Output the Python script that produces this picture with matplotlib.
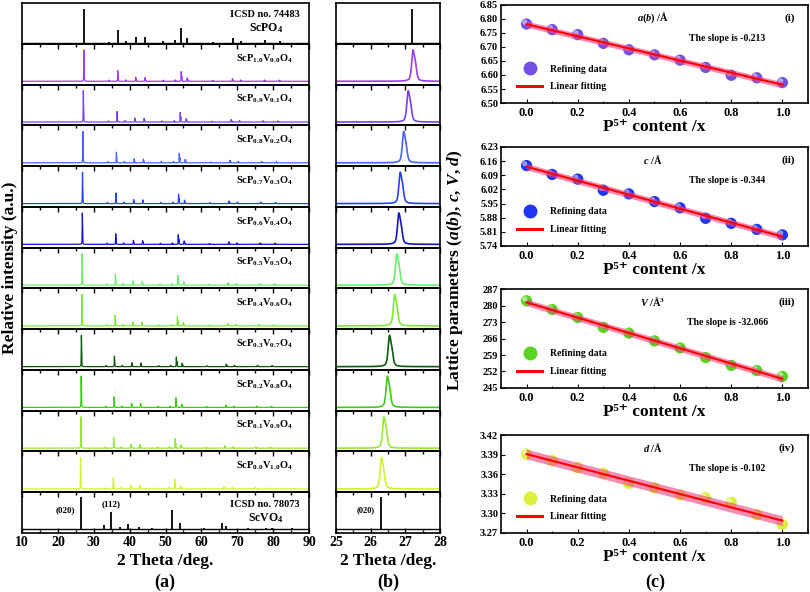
import numpy as np
import matplotlib
matplotlib.use('Agg')
import matplotlib.pyplot as plt
from matplotlib.lines import Line2D
from matplotlib import transforms
from matplotlib.ticker import MultipleLocator

plt.rcParams['font.family'] = ['Liberation Serif', 'DejaVu Serif']
plt.rcParams['font.weight'] = 'bold'
plt.rcParams['axes.labelweight'] = 'bold'
plt.rcParams['mathtext.fontset'] = 'custom'
plt.rcParams['mathtext.rm'] = 'Liberation Serif:bold'
plt.rcParams['mathtext.it'] = 'Liberation Serif:italic:bold'
plt.rcParams['mathtext.bf'] = 'Liberation Serif:bold'
plt.rcParams['axes.linewidth'] = 1.2

# ---- XRD data ----
p_content = [1.0, 0.9, 0.8, 0.7, 0.6, 0.5, 0.4, 0.3, 0.2, 0.1, 0.0]
row_colors = ['#9b3df2', '#7a3ff0', '#4a62f0', '#2743f0', '#1414c4', '#6cec6c',
              '#7ee83c', '#0c5a0c', '#3ccc14', '#98e634', '#d8f02c']
# position of the strongest (200)/(020) reflection for each sample, deg
main_peak = [27.22, 27.08, 26.95, 26.85, 26.81, 26.75, 26.69, 26.54, 26.48, 26.38, 26.31]

# reflections measured on the x = 1.0 pattern (position, relative height)
exp_peak_pos = [27.27, 34.33, 36.74, 38.97, 41.75, 44.35, 49.37, 52.80, 54.48, 56.15,
                63.30, 68.77, 71.10, 77.69, 81.87]
exp_peak_int = [1.0, 0.04, 0.36, 0.05, 0.14, 0.13, 0.04, 0.05, 0.34, 0.12,
                0.03, 0.09, 0.05, 0.05, 0.04]

# ICSD reference sticks
scpo4_pos = [27.18, 34.33, 36.65, 38.88, 41.66, 44.26, 49.28, 52.62, 54.29, 55.96,
             63.30, 68.68, 71.10, 77.69, 81.87]
scpo4_int = [1.0, 0.03, 0.38, 0.05, 0.18, 0.17, 0.06, 0.08, 0.44, 0.15,
             0.03, 0.15, 0.06, 0.08, 0.06]
scvo4_pos = [26.31, 32.98, 34.75, 37.43, 39.56, 42.53, 46.24, 51.89, 53.93, 60.6,
             65.7, 66.9, 73.1, 77.9, 79.8, 85.3]
scvo4_int = [1.0, 0.12, 0.52, 0.05, 0.17, 0.06, 0.03, 0.6, 0.2, 0.04,
             0.2, 0.1, 0.04, 0.04, 0.03, 0.04]

# ---- lattice parameters ----
x_frac = [0.0, 0.1, 0.2, 0.3, 0.4, 0.5, 0.6, 0.7, 0.8, 0.9, 1.0]
a_vals = [6.782, 6.762, 6.744, 6.713, 6.690, 6.672, 6.653, 6.627, 6.599, 6.590, 6.573]
c_vals = [6.138, 6.094, 6.071, 6.016, 5.998, 5.960, 5.929, 5.877, 5.852, 5.822, 5.795]
v_vals = [282.0, 278.3, 274.9, 270.7, 268.3, 265.0, 262.0, 257.9, 254.6, 252.4, 249.9]
d_vals = [3.3905, 3.381, 3.370, 3.3615, 3.346, 3.339, 3.328, 3.324, 3.317, 3.298, 3.283]
slope_text = ['The slope is -0.213', 'The slope is -0.344',
              'The slope is -32.066', 'The slope is -0.102']


def xrd_profile(tt, centers, heights, fwhm=0.09):
    hw = fwhm / 2
    y = np.zeros_like(tt)
    for c, h in zip(centers, heights):
        shift = np.degrees(2 * np.tan(np.radians(c / 2)) * 0.00251)  # K-alpha2
        for cc, hh in ((c, h), (c + shift, 0.5 * h)):
            u = (tt - cc) / hw
            y += hh * (0.5 / (1 + u ** 2) + 0.5 * np.exp(-np.log(2) * u ** 2))
    return y


fig = plt.figure(figsize=(8.1, 5.92), dpi=100)

n_rows = 13
bot, top = 0.0997, 0.9949
rh = (top - bot) / n_rows
tt_a = np.arange(10, 90, 0.005)
tt_b = np.arange(25, 28, 0.002)


def setup_row(ax, i, xmaj, xmin, xlim):
    ax.set_xlim(*xlim)
    ax.set_yticks([])
    ax.xaxis.set_major_locator(MultipleLocator(xmaj))
    ax.xaxis.set_minor_locator(MultipleLocator(xmin))
    last = i == n_rows - 1
    ax.tick_params(axis='x', which='both', direction='in', top=(i > 0),
                   bottom=last, labelbottom=last, labelsize=10, pad=2)
    ax.tick_params(axis='x', which='major', length=3.5, width=1)
    ax.tick_params(axis='x', which='minor', length=2, width=1)
    ax.patch.set_alpha(0)


for panel, (left, width) in enumerate([(0.0272, 0.3543), (0.4148, 0.1284)]):
    tt = tt_a if panel == 0 else tt_b
    xlim = (10, 90) if panel == 0 else (25, 28)
    for i in range(n_rows):
        ax = fig.add_axes([left, top - (i + 1) * rh, width, rh])
        setup_row(ax, i, 10 if panel == 0 else 1, 5 if panel == 0 else 0.5, xlim)
        if i == 0:
            ax.set_ylim(-0.03, 1.16)
            ax.axhline(0, color='k', lw=1)
            ax.vlines(scpo4_pos, 0, scpo4_int, color='k', lw=1.3)
            if panel == 0:
                ax.text(0.845, 0.72, 'ICSD no. 74483', transform=ax.transAxes,
                        ha='center', va='center', fontsize=7.5)
                ax.text(0.85, 0.38, r'ScPO$_{\rm 4}$', transform=ax.transAxes,
                        ha='center', va='center', fontsize=8.5)
        elif i == n_rows - 1:
            ax.set_ylim(-0.128, 1.154)
            ax.axhline(0, color='k', lw=1)
            ax.vlines(scvo4_pos, 0, scvo4_int, color='k', lw=1.3)
            if panel == 0:
                ax.text(0.845, 0.69, 'ICSD no. 78073', transform=ax.transAxes,
                        ha='center', va='center', fontsize=7.5)
                ax.text(0.85, 0.36, r'ScVO$_{\rm 4}$', transform=ax.transAxes,
                        ha='center', va='center', fontsize=8.5)
                ax.text(22.0, 0.6, '(020)', ha='center', va='center', fontsize=6.5)
                ax.text(34.8, 0.78, '(112)', ha='center', va='center', fontsize=6.5)
            else:
                ax.text(25.86, 0.6, '(020)', ha='center', va='center', fontsize=6)
        else:
            k = i - 1
            scale = main_peak[k] / exp_peak_pos[0]
            centers = np.array(exp_peak_pos) * scale
            y_full = xrd_profile(tt_a, centers, exp_peak_int)
            y = xrd_profile(tt, centers, exp_peak_int) / y_full.max()
            ax.set_ylim(-0.104, 1.195)
            ax.plot(tt, y, color=row_colors[k], lw=0.9 if panel == 0 else 1.2)
            if panel == 0:
                p = p_content[k]
                lab = r'ScP$_{\rm %.1f}$V$_{\rm %.1f}$O$_{\rm 4}$' % (p, abs(1 - p))
                ax.text(0.845, 0.645, lab, transform=ax.transAxes,
                        ha='center', va='center', fontsize=7.5)

fig.text(0.012, 0.547, 'Relative intensity (a.u.)', rotation=90,
         ha='center', va='center', fontsize=12.5)
fig.text(0.204, 0.052, '2 Theta /deg.', ha='center', va='center', fontsize=12.5)
fig.text(0.479, 0.052, '2 Theta /deg.', ha='center', va='center', fontsize=12.5)
fig.text(0.204, 0.017, '(a)', ha='center', va='center', fontsize=13)
fig.text(0.479, 0.017, '(b)', ha='center', va='center', fontsize=13)
fig.text(0.809, 0.017, '(c)', ha='center', va='center', fontsize=13)

# ---- panel (c) ----
c_boxes = [(0.826, 0.9916), (0.5845, 0.7517), (0.3446, 0.5118), (0.0997, 0.2652)]
c_series = [a_vals, c_vals, v_vals, d_vals]
c_colors = ['#7350e4', '#2036f0', '#5ad422', '#dcef3e']
c_titles = [r'$a$($b$) /$\rm\AA$', r'$c$ /$\rm\AA$', r'$V$ /$\rm\AA^3$', r'$d$ /$\rm\AA$']
c_tags = ['(i)', '(ii)', '(iii)', '(iv)']
c_yticks = [np.arange(6.50, 6.851, 0.05), np.arange(5.74, 6.231, 0.07),
            np.arange(245, 288, 7), np.arange(3.27, 3.421, 0.03)]
c_fmt = ['%.2f', '%.2f', '%d', '%.2f']
c_band = [0.011, 0.016, 1.4, 0.0075]

xs = np.array(x_frac)
for j in range(4):
    b0, b1 = c_boxes[j]
    ax = fig.add_axes([0.6185, b0, 0.3790, b1 - b0])
    ys = np.array(c_series[j])
    ax.scatter(xs, ys, s=66, color=c_colors[j], edgecolor='none', zorder=2)
    off = transforms.offset_copy(ax.transData, fig=fig, x=-1.3, y=1.3, units='points')
    ax.scatter(xs, ys, s=14, color='white', alpha=0.5, edgecolor='none',
               zorder=2.5, transform=off)
    k, b = np.polyfit(xs, ys, 1)
    xf = np.array([0.0, 1.0])
    yf = k * xf + b
    ax.fill_between(xf, yf - c_band[j], yf + c_band[j], color='#f0407f', alpha=0.6,
                    lw=0, zorder=3)
    ax.plot(xf, yf, color='#ff0000', lw=1.5, zorder=4)

    ax.set_xlim(-0.1, 1.1)
    yt = c_yticks[j]
    ax.set_ylim(yt[0], yt[-1])
    ax.set_yticks(yt)
    ax.set_yticklabels([c_fmt[j] % v for v in yt])
    ax.set_xticks([0.0, 0.2, 0.4, 0.6, 0.8, 1.0])
    ax.set_xticklabels(['0.0', '0.2', '0.4', '0.6', '0.8', '1.0'])
    ax.xaxis.set_minor_locator(MultipleLocator(0.1))
    ax.tick_params(axis='y', labelsize=7.5, direction='in', length=3, pad=2)
    ax.tick_params(axis='x', labelsize=9, direction='in', length=3, pad=3)
    ax.tick_params(axis='x', which='minor', direction='in', length=1.5)
    ax.set_xlabel('P\u2075\u207a content /x', fontsize=12.5, fontweight='bold',
                  labelpad=0)

    ax.text(0.494, 0.87, c_titles[j], transform=ax.transAxes, ha='center',
            va='center', fontsize=7.5)
    ax.text(0.958, 0.87, c_tags[j], transform=ax.transAxes, ha='right',
            va='center', fontsize=8)
    ax.text(0.737, 0.66, slope_text[j], transform=ax.transAxes, ha='center',
            va='center', fontsize=7)
    handles = [Line2D([], [], marker='o', ms=9, ls='none', color=c_colors[j]),
               Line2D([], [], color='#ff0000', lw=2.2)]
    ax.legend(handles, ['Refining data', 'Linear fitting'], loc='lower left',
              bbox_to_anchor=(0.04, 0.08), frameon=False, fontsize=7,
              handlelength=2.6, handletextpad=0.8, labelspacing=0.9, borderaxespad=0)

fig.text(0.562, 0.544, r'Lattice parameters ($a$($b$), $c$, $V$, $d$)', rotation=90,
         ha='center', va='center', fontsize=12.5)

fig.savefig('out.png', dpi=100)
